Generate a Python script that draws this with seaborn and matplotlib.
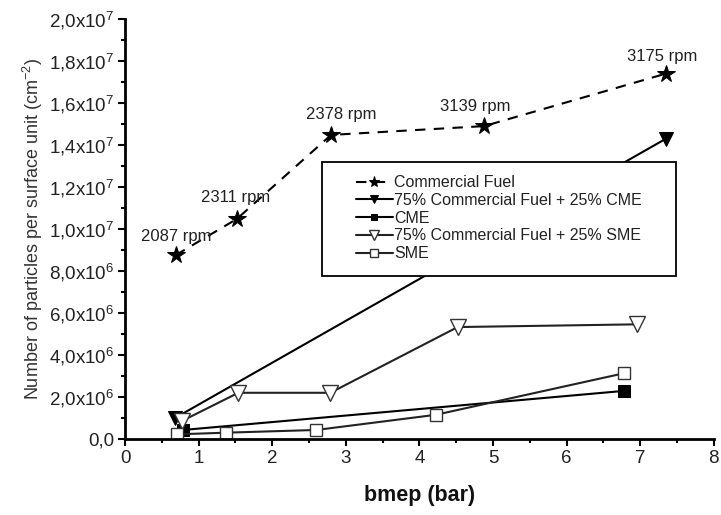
import matplotlib
matplotlib.use("Agg")
import matplotlib.pyplot as plt
import seaborn as sns
from matplotlib.patches import Rectangle
from matplotlib.ticker import MultipleLocator, FixedLocator, FixedFormatter

sns.set_theme(style="ticks")
plt.rcParams['font.family'] = ['Liberation Sans', 'DejaVu Sans']
plt.rcParams['mathtext.fontset'] = 'custom'
plt.rcParams['mathtext.rm'] = 'Liberation Sans'
plt.rcParams['mathtext.it'] = 'Liberation Sans'

# data
cf_x = [0.69, 1.52, 2.80, 4.88, 7.35]
cf_y = [8.76e6, 10.48e6, 14.48e6, 14.9e6, 17.4e6]
cf_rpm = ["2087 rpm", "2311 rpm", "2378 rpm", "3139 rpm", "3175 rpm"]

cme75_x = [0.68, 7.35]
cme75_y = [1.0e6, 14.3e6]

cme_x = [0.79, 6.78]
cme_y = [0.43e6, 2.29e6]

sme75_x = [0.78, 1.54, 2.79, 4.52, 6.96]
sme75_y = [0.87e6, 2.2e6, 2.2e6, 5.33e6, 5.46e6]

sme_x = [0.70, 1.37, 2.60, 4.22, 6.78]
sme_y = [0.22e6, 0.30e6, 0.43e6, 1.15e6, 3.13e6]

ytick_vals = [0, 2e6, 4e6, 6e6, 8e6, 1e7, 1.2e7, 1.4e7, 1.6e7, 1.8e7, 2e7]
ytick_labels = ["0,0", "2,0x10$^6$", "4,0x10$^6$", "6,0x10$^6$", "8,0x10$^6$",
                "1,0x10$^7$", "1,2x10$^7$", "1,4x10$^7$", "1,6x10$^7$",
                "1,8x10$^7$", "2,0x10$^7$"]

fig = plt.figure(figsize=(7.21, 5.15), dpi=100)
ax = fig.add_axes([0.1734, 0.1476, 0.8166, 0.8155])

lw = 1.5
sns.lineplot(x=cf_x, y=cf_y, ax=ax, sort=False, color='black', lw=lw,
             linestyle=(0, (5, 4)), marker='*', markersize=13, markeredgecolor='black',
             markerfacecolor='black', label='Commercial Fuel')
sns.lineplot(x=cme75_x, y=cme75_y, ax=ax, sort=False, color='black', lw=lw,
             marker='v', markersize=10, markerfacecolor='black', markeredgecolor='black',
             label='75% Commercial Fuel + 25% CME')
sns.lineplot(x=cme_x, y=cme_y, ax=ax, sort=False, color='black', lw=lw,
             marker='s', markersize=8, markerfacecolor='black', markeredgecolor='black',
             label='CME')
sns.lineplot(x=sme75_x, y=sme75_y, ax=ax, sort=False, color='#222222', lw=lw,
             marker='v', markersize=11, markerfacecolor='white', markeredgecolor='#333333',
             markeredgewidth=1.0, label='75% Commercial Fuel + 25% SME')
sns.lineplot(x=sme_x, y=sme_y, ax=ax, sort=False, color='#222222', lw=lw,
             marker='s', markersize=9, markerfacecolor='white', markeredgecolor='#333333',
             markeredgewidth=1.0, label='SME')

# rpm annotations (pixel offsets)
offsets = [(0, 19), (-1, 21), (10, 20), (-9, 20), (-4, 17)]
for x, y, t, (dx, dy) in zip(cf_x, cf_y, cf_rpm, offsets):
    ax.annotate(t, (x, y), xytext=(dx, dy), textcoords='offset pixels',
                ha='center', va='center', fontsize=12, color='#222222', zorder=6)

ax.set_xlim(0, 8)
ax.set_ylim(0, 2e7)
ax.xaxis.set_major_locator(MultipleLocator(1))
ax.xaxis.set_minor_locator(MultipleLocator(0.5))
ax.yaxis.set_major_locator(FixedLocator(ytick_vals))
ax.yaxis.set_major_formatter(FixedFormatter(ytick_labels))
ax.yaxis.set_minor_locator(MultipleLocator(1e6))
ax.tick_params(which='major', direction='out', length=5, width=1.5, labelsize=13.5,
               colors='black', labelcolor='#222222', pad=3)
ax.tick_params(which='minor', direction='out', length=3, width=1.5, colors='black')
for s in ['left', 'bottom']:
    ax.spines[s].set_linewidth(2)
    ax.spines[s].set_color('black')
sns.despine(ax=ax)

ax.set_xlabel('bmep (bar)', fontsize=15.5, fontweight='bold', labelpad=13, color='#111111')
ax.set_ylabel('Number of particles per surface unit (cm$^{-2}$)', fontsize=13,
              color='#333333', labelpad=3)

# legend box
box = Rectangle((0.334, 0.388), 0.601, 0.272, transform=ax.transAxes,
                facecolor='white', edgecolor='black', lw=1.3, zorder=4.5)
ax.add_patch(box)

leg = ax.legend(loc='upper left', bbox_to_anchor=(0.392, 0.628),
                frameon=False, fontsize=11.5, handlelength=2.3, borderpad=0,
                labelspacing=0.17, handletextpad=0.1, borderaxespad=0)
leg.set_zorder(5)
msizes = [8, 6, 5, 7, 6]
for h, ms in zip(leg.legend_handles, msizes):
    h.set_markersize(ms)
for t in leg.get_texts():
    t.set_color('#222222')

fig.savefig('out.png', dpi=100)
